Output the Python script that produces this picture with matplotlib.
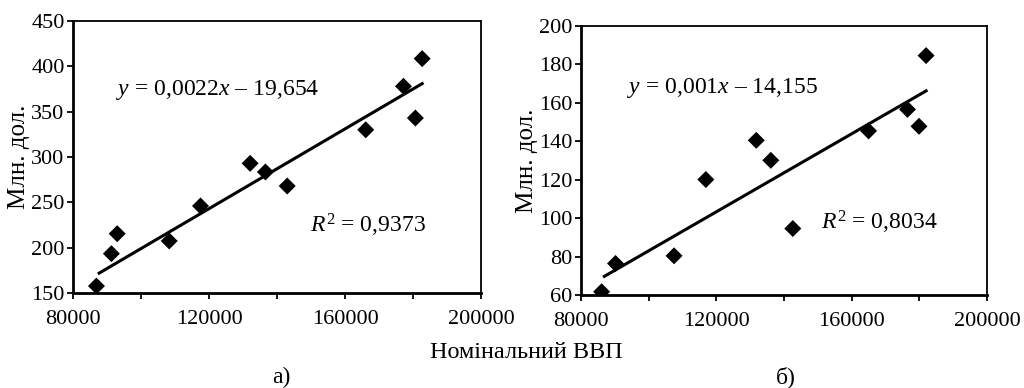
import matplotlib
matplotlib.use('Agg')
import matplotlib.pyplot as plt
import matplotlib.ticker as ticker
import numpy as np

plt.rcParams['font.family'] = ['Liberation Serif', 'DejaVu Serif']
plt.rcParams['mathtext.fontset'] = 'custom'
plt.rcParams['mathtext.rm'] = 'Liberation Serif'
plt.rcParams['mathtext.it'] = 'Liberation Serif:italic'

# panel a)
gdp_a = [86900, 91300, 93000, 108300, 117500, 132100, 136600, 143000,
         166100, 177200, 180700, 182700]
val_a = [157.7, 193.4, 215.4, 207.4, 246, 293, 283.5, 268,
         330, 378, 343, 408.5]
slope_a, icept_a = 0.0022, -21.0
eq_a = "$y$ = 0,0022$x$ – 19,654"
r2_a = "$R^2$ = 0,9373"

# panel b)
gdp_b = [86100, 90200, 107500, 116900, 131800, 136100, 142600,
         165000, 176500, 179900, 182000]
val_b = [61.7, 76.4, 80.4, 120.1, 140.5, 130.1, 94.6,
         145.4, 156.6, 147.8, 184.6]
slope_b, icept_b = 0.001015, -18.5
eq_b = "$y$ = 0,001$x$ – 14,155"
r2_b = "$R^2$ = 0,8034"

W, H = 1024, 388
fig = plt.figure(figsize=(W / 100, H / 100), dpi=100)


def panel(rect, gdp, val, slope, icept, ylim, ystep, eq, eqpos, r2, r2pos):
    ax = fig.add_axes(rect)
    ax.scatter(gdp, val, marker='D', s=75, color='black', zorder=3,
               edgecolors='none')
    xs = np.array([min(gdp) + 800, max(gdp)])
    ax.plot(xs, slope * xs + icept, color='black', lw=2.2, zorder=2)
    ax.set_xlim(80000, 200000)
    ax.set_ylim(*ylim)
    ax.xaxis.set_major_locator(ticker.MultipleLocator(40000))
    ax.xaxis.set_minor_locator(ticker.MultipleLocator(20000))
    ax.yaxis.set_major_locator(ticker.MultipleLocator(ystep))
    ax.tick_params(which='both', direction='out', length=4, width=1.3,
                   labelsize=16, pad=2, colors='black')
    ax.tick_params(axis='x', which='major', pad=8)
    ax.tick_params(axis='y', which='minor', left=False)
    for s in ['left', 'bottom']:
        ax.spines[s].set_linewidth(2)
    for s in ['top', 'right']:
        ax.spines[s].set_linewidth(1.3)
    ax.set_ylabel('Млн. дол.', fontsize=18, labelpad=1)
    ax.text(eqpos[0], eqpos[1], eq, transform=ax.transAxes, fontsize=17,
            va='center', ha='left')
    ax.text(r2pos[0], r2pos[1], r2, transform=ax.transAxes, fontsize=17,
            va='center', ha='left')
    return ax


def rect(x0, x1, top, bot):
    return [x0 / W, 1 - bot / H, (x1 - x0) / W, (bot - top) / H]


panel(rect(73, 481, 21, 293), gdp_a, val_a, slope_a, icept_a, (150, 450), 50,
      eq_a, (0.105, 0.745), r2_a, (0.58, 0.25))
panel(rect(581, 987, 26, 295), gdp_b, val_b, slope_b, icept_b, (60, 200), 20,
      eq_b, (0.113, 0.77), r2_b, (0.59, 0.27))

fig.text(526 / W, 1 - 353 / H, 'Номінальний ВВП', fontsize=17.5,
         ha='center', va='center')
fig.text(281 / W, 1 - 377 / H, 'а)', fontsize=17, ha='center', va='center')
fig.text(786 / W, 1 - 377 / H, 'б)', fontsize=17, ha='center', va='center')

fig.savefig('out.png', dpi=100)
